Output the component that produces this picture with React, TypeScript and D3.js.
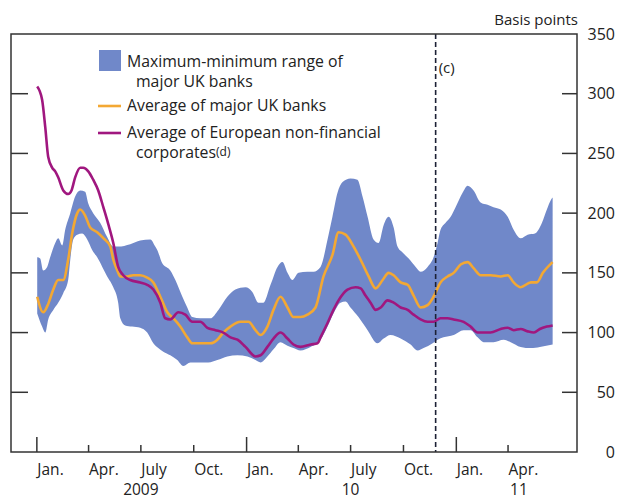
import React from "react";
import * as d3 from "d3";

// months since 1 Jan 2009, basis points
const upperBand: [number, number][] = [
  [0.02,163],[0.19,162],[0.36,152],[0.59,155],[0.76,163],[1.05,175],[1.22,179],[1.45,173],[1.62,186],[1.91,200],
  [2.19,214],[2.48,219],[2.76,218],[2.94,208],[3.22,200],[3.62,192],[4.02,180],[4.37,172],[4.65,172],[5.34,174],
  [5.91,177],[6.49,178],[6.77,172],[6.89,169],[7.17,158],[7.63,152],[7.92,144],[8.32,130],[8.60,121],[8.89,113],
  [9.35,112],[9.92,112],[10.38,119],[10.89,130],[11.35,136],[11.93,138],[12.32,134],[12.67,125],[12.95,125],[13.36,140],
  [13.76,155],[14.04,159],[14.33,150],[14.61,144],[14.96,150],[15.47,151],[15.82,151],[16.22,155],[16.62,178],[16.90,197],
  [17.19,217],[17.48,226],[17.93,229],[18.33,228],[18.62,214],[18.91,197],[19.25,178],[19.54,175],[19.83,190],[20.11,197],
  [20.40,188],[20.62,172],[20.91,167],[21.26,162],[21.66,155],[21.94,151],[22.34,155],[22.68,163],[22.91,175],[23.08,186],
  [23.37,192],[23.66,197],[23.94,205],[24.34,217],[24.63,223],[24.97,219],[25.37,209],[25.77,207],[26.11,205],[26.52,203],
  [26.92,197],[27.26,186],[27.66,179],[28.06,182],[28.48,183],[28.88,192],[29.16,203],[29.39,211],[29.49,213]
];

const lowerBand: [number, number][] = [
  [0.02,116],[0.30,105],[0.48,100],[0.65,111],[0.94,119],[1.22,125],[1.51,133],[1.79,144],[1.91,161],[2.08,178],
  [2.31,182],[2.59,183],[2.88,178],[3.17,169],[3.45,163],[3.74,155],[4.02,147],[4.37,138],[4.65,125],[4.77,112],
  [5.05,106],[5.45,105],[5.91,104],[6.31,100],[6.66,91],[6.94,87],[7.23,84],[7.63,81],[8.03,77],[8.37,72],
  [8.78,75],[9.35,75],[9.80,75],[10.32,77],[10.89,80],[11.47,81],[12.04,80],[12.50,77],[12.79,75],[13.18,80],
  [13.53,86],[13.93,92],[14.33,89],[14.67,87],[15.07,85],[15.65,88],[15.93,90],[16.22,94],[16.62,105],[16.96,116],
  [17.36,125],[17.65,126],[17.93,121],[18.39,113],[18.91,102],[19.48,91],[19.83,95],[20.22,98],[20.80,95],[21.37,90],
  [21.77,85],[22.11,87],[22.63,91],[22.91,94],[23.25,96],[23.83,98],[24.40,102],[24.80,102],[25.20,96],[25.54,92],
  [26.11,92],[26.69,94],[27.09,92],[27.66,88],[28.25,87],[28.76,88],[29.49,90]
];

const ukBanksAvg: [number, number][] = [
  [0.02,130],[0.36,117],[0.65,124],[0.94,136],[1.22,144],[1.51,144],[1.79,161],[2.02,183],[2.31,200],[2.48,203],
  [2.76,198],[3.05,188],[3.45,184],[3.80,179],[4.20,172],[4.37,161],[4.60,152],[4.77,147],[5.17,147],[5.51,148],
  [5.91,148],[6.31,146],[6.66,142],[7.06,130],[7.46,117],[7.80,112],[8.20,105],[8.60,96],[8.89,91],[9.35,91],
  [9.92,91],[10.32,94],[10.66,100],[11.07,105],[11.64,109],[12.10,109],[12.50,102],[12.79,98],[13.18,105],[13.53,119],
  [13.93,130],[14.33,121],[14.67,113],[15.07,113],[15.47,115],[15.93,121],[16.39,147],[16.90,165],[17.25,184],[17.65,182],
  [18.11,172],[18.51,161],[18.97,147],[19.37,137],[19.77,144],[20.11,150],[20.40,148],[20.80,142],[21.20,140],[21.54,131],
  [21.94,121],[22.34,123],[22.68,130],[23.08,142],[23.48,147],[23.83,150],[24.23,157],[24.63,159],[24.97,154],[25.37,148],
  [25.94,148],[26.52,147],[26.92,148],[27.26,142],[27.66,138],[28.25,142],[28.59,142],[28.93,150],[29.49,159]
];

const euroCorpAvg: [number, number][] = [
  [0.02,306],[0.30,295],[0.48,272],[0.65,247],[0.88,238],[1.05,235],[1.22,230],[1.51,219],[1.79,216],[1.98,219],
  [2.19,230],[2.48,238],[2.65,238],[2.94,235],[3.22,228],[3.51,219],[3.80,205],[4.08,191],[4.37,175],[4.65,155],
  [4.94,148],[5.34,144],[5.91,142],[6.31,140],[6.66,136],[7.06,125],[7.34,112],[7.63,111],[8.09,117],[8.49,115],
  [8.89,109],[9.35,109],[9.75,104],[10.21,102],[10.66,100],[11.07,96],[11.47,94],[11.93,88],[12.50,80],[12.79,81],
  [13.18,88],[13.53,95],[13.93,100],[14.33,95],[14.67,90],[15.07,88],[15.65,90],[16.05,91],[16.22,96],[16.62,108],
  [16.96,119],[17.25,127],[17.76,136],[18.22,138],[18.51,137],[18.79,131],[19.08,125],[19.37,119],[19.66,121],[20.05,127],
  [20.40,125],[20.80,121],[21.20,119],[21.54,115],[21.94,111],[22.34,109],[22.68,109],[23.08,112],[23.48,112],[23.83,111],
  [24.40,109],[24.80,105],[25.20,100],[25.54,100],[25.94,100],[26.52,103],[26.92,104],[27.26,102],[27.66,103],[28.06,101],
  [28.42,100],[28.76,103],[29.16,105],[29.49,106]
];

const monthLabels = ["Jan.", "Apr.", "July", "Oct.", "Jan.", "Apr.", "July", "Oct.", "Jan.", "Apr."];
const yearLabels: [string, string][] = [["2009", "2009-07-01"], ["10", "2010-07-01"], ["11", "2011-04-20"]];
const yTicks = [0, 50, 100, 150, 200, 250, 300, 350];
const dashedDate = "2010-11-26";

const FONT = "'Open Sans', 'Noto Sans', sans-serif";
const BAND = "#7088c9";
const ORANGE = "#f3a833";
const PURPLE = "#a0177f";
const INK = "#222";

const X0 = 11, X1 = 577, Y0 = 34, Y1 = 452;
const base = new Date(2009, 0, 1).getTime();
const toDate = (m: number) => new Date(base + m * 30.4375 * 864e5);
const parse = (s: string) => { const [a, b, c] = s.split("-").map(Number); return new Date(a, b - 1, c); };

export default function App() {
  const x = d3.scaleTime().domain([new Date(2008, 10, 17), new Date(2011, 6, 30)]).range([X0, X1]);
  const y = d3.scaleLinear().domain([0, 350]).range([Y1, Y0]);
  const line = d3.line<[number, number]>().x(d => x(toDate(d[0]))).y(d => y(d[1])).curve(d3.curveMonotoneX);
  const up = line(upperBand) as string;
  const lo = line([...lowerBand].reverse()) as string;
  const bandPath = up + "L" + lo.slice(1) + "Z";
  const qTicks = d3.timeMonths(new Date(2009, 0, 1), new Date(2011, 4, 1), 3);
  const dx = x(parse(dashedDate));

  return (
    <svg width={617} height={500} style={{ position: "absolute", left: 0, top: 0, background: "#fff" }}
      fontFamily={FONT}>
      <rect x={0} y={0} width={617} height={500} fill="#fff" />
      <path d={bandPath} fill={BAND} stroke="none" />
      <path d={line(ukBanksAvg) as string} fill="none" stroke={ORANGE} strokeWidth={2.6} strokeLinejoin="round" />
      <path d={line(euroCorpAvg) as string} fill="none" stroke={PURPLE} strokeWidth={2.6} strokeLinejoin="round" />
      <line x1={dx} x2={dx} y1={Y0} y2={Y1} stroke="#1c2035" strokeWidth={1.6} strokeDasharray="5,3" />
      <text x={dx + 3} y={73} fontSize={15} fill={INK}>(c)</text>

      {/* frame */}
      <rect x={X0} y={Y0} width={X1 - X0} height={Y1 - Y0} fill="none" stroke="#333" strokeWidth={1.5} />

      {/* y ticks */}
      {yTicks.filter(t => t > 0 && t < 350).map(t => (
        <g key={t}>
          <line x1={X0} x2={X0 + 17} y1={y(t)} y2={y(t)} stroke="#333" strokeWidth={1.5} />
          <line x1={X1 - 15} x2={X1} y1={y(t)} y2={y(t)} stroke="#333" strokeWidth={1.5} />
        </g>
      ))}
      {yTicks.map(t => (
        <text key={"l" + t} x={615} y={y(t) + 5.5} fontSize={16} textAnchor="end" fill={INK}>{t}</text>
      ))}
      <text x={578} y={25} fontSize={15} textAnchor="end" fill={INK}>Basis points</text>

      {/* x ticks */}
      {qTicks.map((d, i) => (
        <g key={i}>
          <line x1={x(d)} x2={x(d)} y1={Y1} y2={d.getMonth() === 0 ? Y1 - 15 : Y1 - 7} stroke="#333" strokeWidth={1.5} />
          <text x={x(d) + 0.5} y={475} fontSize={15.5} fill={INK}>{monthLabels[i]}</text>
        </g>
      ))}
      {yearLabels.map(([l, d]) => (
        <text key={l} x={x(parse(d))} y={495} fontSize={15.5} textAnchor="middle" fill={INK}>{l}</text>
      ))}

      {/* legend */}
      <rect x={99} y={50} width={22} height={21} fill={BAND} />
      <text x={127} y={67} fontSize={15.8} fill={INK}>Maximum-minimum range of</text>
      <text x={136} y={87} fontSize={15.8} fill={INK}>major UK banks</text>
      <line x1={98} x2={121} y1={106} y2={106} stroke={ORANGE} strokeWidth={2.6} />
      <text x={127} y={111} fontSize={15.8} fill={INK}>Average of major UK banks</text>
      <line x1={98} x2={121} y1={133} y2={133} stroke={PURPLE} strokeWidth={2.6} />
      <text x={127} y={138} fontSize={15.8} fill={INK}>Average of European non-financial</text>
      <text x={136} y={158} fontSize={15.8} fill={INK}>corporates</text>
      <text x={216} y={156} fontSize={12} fill={INK}>(d)</text>
    </svg>
  );
}
